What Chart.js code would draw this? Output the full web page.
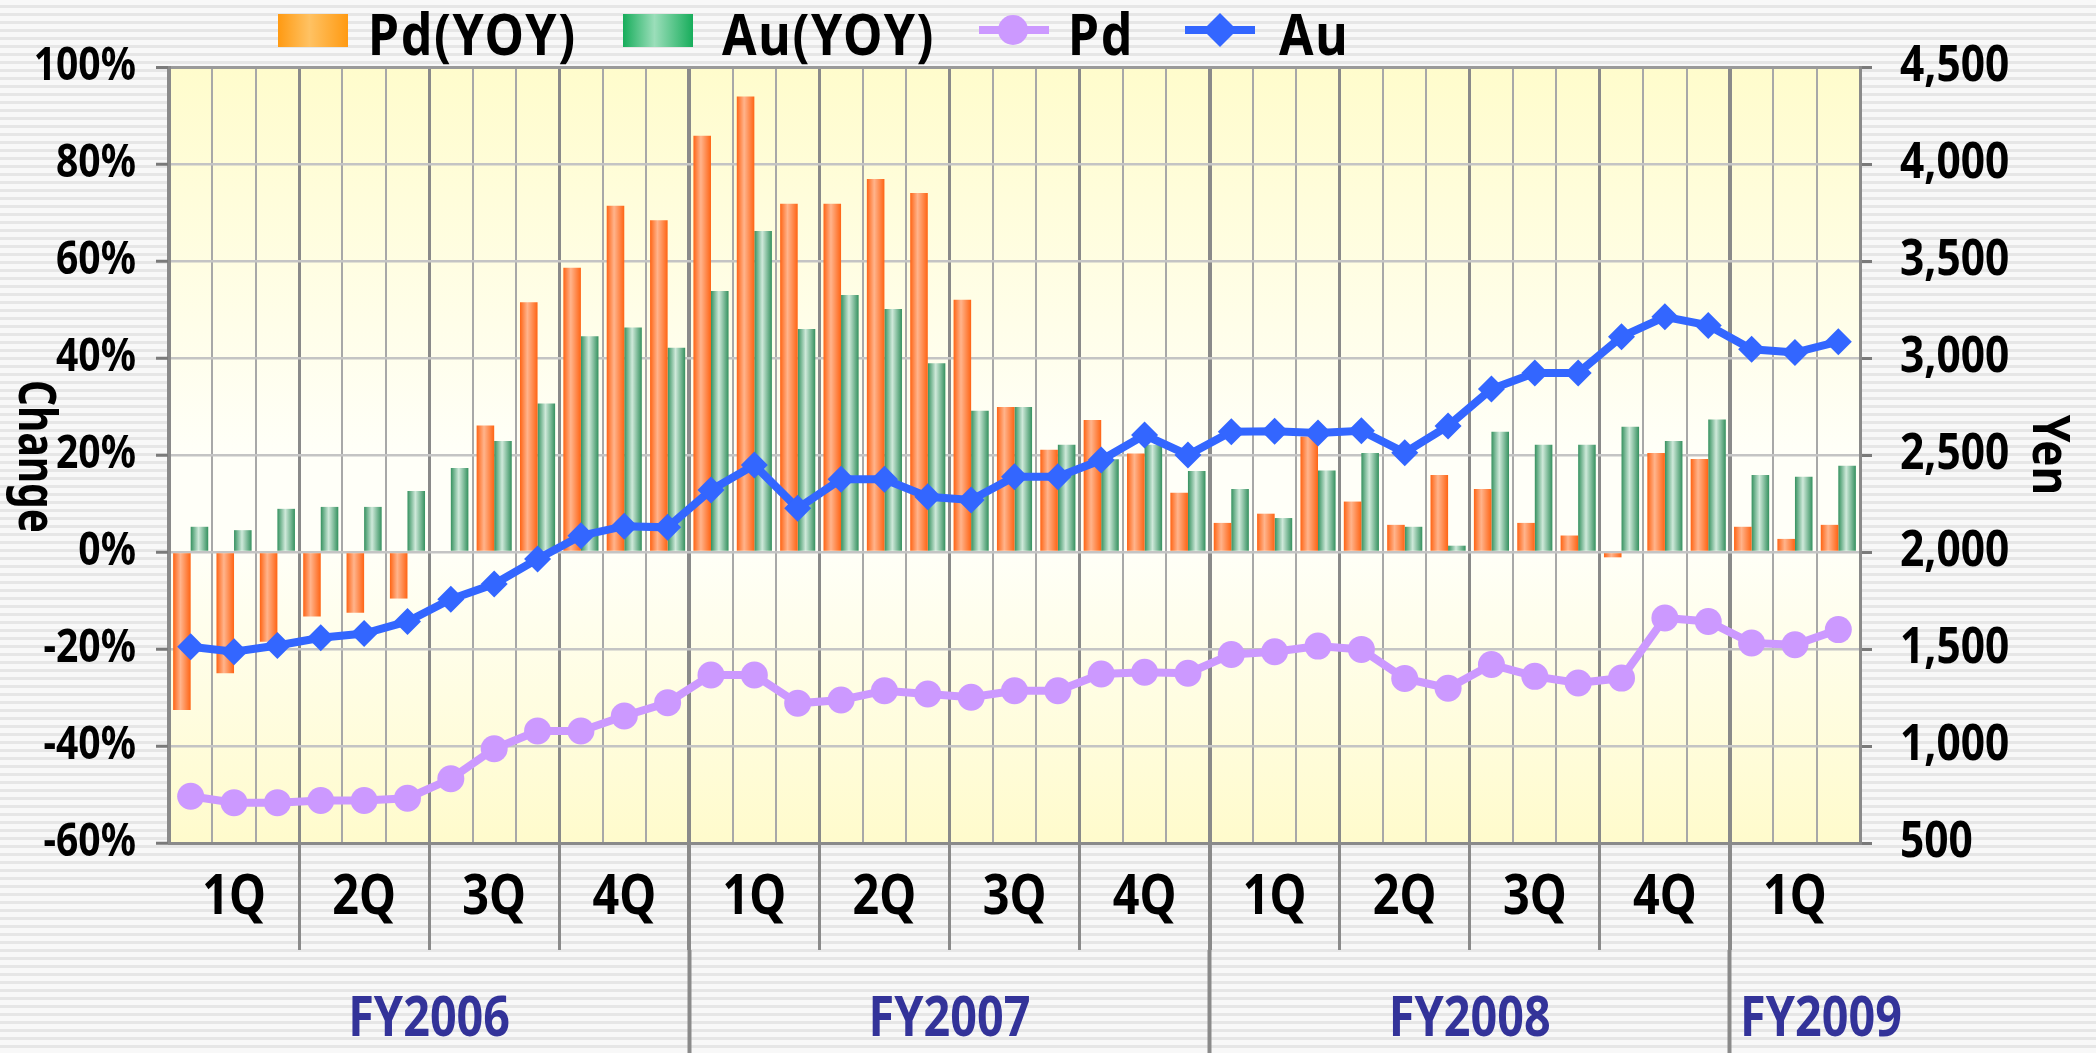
<!DOCTYPE html>
<html>
<head>
<meta charset="utf-8">
<title>Pd / Au price and YOY change</title>
<script src="https://cdn.jsdelivr.net/npm/chart.js@4.4.1/dist/chart.umd.min.js"></script>
<style>
  html, body { margin: 0; padding: 0; }
  body {
    width: 2096px; height: 1053px; overflow: hidden;
    background: repeating-linear-gradient(to bottom, #f8f8f8 0px, #f8f8f8 5px, #e6e6e6 5px, #e6e6e6 8px);
    font-family: "Noto Sans", "Liberation Sans", Arial, sans-serif;
  }
  #wrap { position: relative; width: 2096px; height: 1053px; }
  #chart { position: absolute; left: 0; top: 0; }
  .sw { position: absolute; top: 14px; width: 70px; height: 33px; }
  .lt { position: absolute; top: 4px; font-size: 58px; line-height: 58px; font-weight: bold; color: #000; white-space: nowrap; letter-spacing: 2px; transform: scaleX(0.86); transform-origin: left center; }
  .ln { position: absolute; top: 26px; width: 70px; height: 8px; }
  .dot { position: absolute; top: 15px; width: 30px; height: 30px; border-radius: 50%; background: #cc99ff; }
  .dia { position: absolute; top: 18px; width: 24px; height: 24px; background: #3366ff; transform: rotate(45deg); }
  #ytitle { position: absolute; left: 13px; top: 380px; writing-mode: vertical-rl; font-size: 52px; line-height: 52px; font-weight: bold; color: #000; transform: scaleY(0.78); transform-origin: center top; }
</style>
</head>
<body>
<div id="wrap">
  <canvas id="chart" width="2096" height="1053"></canvas>
  <div class="sw" style="left:278px; background: linear-gradient(to right, #ff9a12, #ffc263 45%, #ff9a12);"></div>
  <div class="lt" style="left:368px">Pd(YOY)</div>
  <div class="sw" style="left:623px; background: linear-gradient(to right, #17ad5b, #9bdeba 45%, #17ad5b);"></div>
  <div class="lt" style="left:722px">Au(YOY)</div>
  <div class="ln" style="left:979px; background:#cc99ff"></div>
  <div class="dot" style="left:998px"></div>
  <div class="lt" style="left:1068px">Pd</div>
  <div class="ln" style="left:1185px; background:#3366ff"></div>
  <div class="dia" style="left:1208px"></div>
  <div class="lt" style="left:1279px">Au</div>
  <div id="ytitle">Change</div>
</div>
<script>
// --- Data ---
const months = [
  '2006-04', '2006-05', '2006-06', '2006-07', '2006-08', '2006-09',
  '2006-10', '2006-11', '2006-12', '2007-01', '2007-02', '2007-03',
  '2007-04', '2007-05', '2007-06', '2007-07', '2007-08', '2007-09',
  '2007-10', '2007-11', '2007-12', '2008-01', '2008-02', '2008-03',
  '2008-04', '2008-05', '2008-06', '2008-07', '2008-08', '2008-09',
  '2008-10', '2008-11', '2008-12', '2009-01', '2009-02', '2009-03',
  '2009-04', '2009-05', '2009-06'
];
const fiscalYears = ['FY2006', 'FY2007', 'FY2008', 'FY2009'];
const monthsPerYear = [12, 12, 12, 3];
const quarterNames = ['1Q', '2Q', '3Q', '4Q'];

// YOY change, %
const pdYoy = [
  -32.6, -25.0, -18.5, -13.3, -12.5, -9.6, 0, 26.1, 51.5, 58.6, 71.4, 68.4,
  85.8, 93.9, 71.8, 71.8, 76.9, 74.0, 52.0, 29.9, 21.1, 27.2, 20.3, 12.2,
  6.0, 7.9, 23.8, 10.4, 5.6, 15.9, 13.0, 6.0, 3.4, -1.1, 20.4, 19.2,
  5.2, 2.7, 5.6
];
const auYoy = [
  5.2, 4.5, 8.9, 9.3, 9.3, 12.6, 17.3, 22.9, 30.6, 44.5, 46.3, 42.1,
  53.8, 66.2, 46.0, 53.0, 50.1, 38.9, 29.1, 29.9, 22.1, 19.1, 22.1, 16.7,
  13.0, 7.0, 16.8, 20.4, 5.2, 1.3, 24.8, 22.1, 22.1, 25.8, 22.9, 27.3,
  15.9, 15.5, 17.8
];

// Price, yen
const pdPrice = [
  741, 708, 708, 719, 719, 731, 831, 986, 1077, 1077, 1155, 1223,
  1366, 1366, 1220, 1237, 1285, 1268, 1251, 1285, 1285, 1371, 1380, 1375,
  1472, 1486, 1515, 1498, 1348, 1298, 1420, 1359, 1325, 1350, 1660, 1642,
  1531, 1522, 1600
];
const auPrice = [
  1512, 1486, 1518, 1558, 1580, 1642, 1757, 1835, 1964, 2084, 2133, 2127,
  2320, 2448, 2225, 2375, 2375, 2285, 2268, 2388, 2388, 2474, 2603, 2500,
  2620, 2622, 2613, 2625, 2512, 2650, 2840, 2923, 2923, 3110, 3212, 3168,
  3045, 3028, 3084
];

// --- Fiscal year ticks (label spots + year boundaries) ---
const fyTicks = [];
let fyStart = 0;
fiscalYears.forEach((fy, i) => {
  const n = monthsPerYear[i];
  if (i > 0) fyTicks.push({ value: fyStart - 0.5, label: '' });
  fyTicks.push({ value: fyStart - 0.5 + Math.max(n, 4.2) / 2, label: fy });
  fyStart += n;
});
fyTicks.sort((a, b) => a.value - b.value);

// --- Styles ---
const FONT = '"Noto Sans", "Liberation Sans", Arial, sans-serif';
const TEXT_SQUEEZE = 0.85; // the original uses a tall, narrow face
const CAT_PCT = 0.81;
const orangeStops = [[0, '#ff6414'], [0.42, '#ffb48c'], [1, '#ff6414']];
const greenStops = [[0, '#35915f'], [0.45, '#cfe9da'], [1, '#35915f']];
const noColor = 'rgba(0,0,0,0)';

Chart.defaults.font.family = FONT;
Chart.defaults.color = '#000';

// horizontal cylinder shading for each bar
function barFill(side, stops) {
  return (ctx) => {
    const chart = ctx.chart;
    const xScale = chart.scales.x;
    if (!xScale || ctx.dataIndex === undefined) return stops[1][1];
    const center = xScale.getPixelForValue(ctx.dataIndex);
    const w = xScale.width / months.length * CAT_PCT / 2;
    if (!isFinite(center) || !isFinite(w) || w <= 0) return stops[1][1];
    const x0 = side === 0 ? center - w : center;
    const g = chart.ctx.createLinearGradient(x0, 0, x0 + w, 0);
    stops.forEach(([p, c]) => g.addColorStop(p, c));
    return g;
  };
}

function gridIndex(ctx) {
  return ctx.index === undefined ? months.length : ctx.index;
}

// --- Plot area background ---
const plotBackground = {
  id: 'plotBackground',
  beforeDraw(chart) {
    const { ctx, chartArea: a } = chart;
    const g = ctx.createLinearGradient(0, a.top, 0, a.bottom);
    g.addColorStop(0, '#fffccc');
    g.addColorStop(0.5, '#fffff8');
    g.addColorStop(0.62, '#fffff8');
    g.addColorStop(1, '#fffbcc');
    ctx.save();
    ctx.fillStyle = g;
    ctx.fillRect(a.left, a.top, a.right - a.left, a.bottom - a.top);
    ctx.restore();
  }
};

// --- Narrow text: squeeze every label along its own line ---
const narrowText = {
  id: 'narrowText',
  beforeInit(chart) {
    const ctx = chart.ctx;
    const fillText = ctx.fillText.bind(ctx);
    ctx.fillText = (text, x, y) => {
      ctx.save();
      ctx.translate(x, y);
      ctx.scale(TEXT_SQUEEZE, 1);
      fillText(text, 0, 0);
      ctx.restore();
    };
  }
};

// --- Chart ---
new Chart(document.getElementById('chart'), {
  type: 'bar',
  data: {
    labels: months,
    datasets: [
      {
        type: 'line',
        label: 'Au',
        data: auPrice,
        yAxisID: 'y1',
        xAxisID: 'x',
        borderColor: '#3366ff',
        backgroundColor: '#3366ff',
        borderWidth: 8,
        tension: 0,
        pointStyle: 'rectRot',
        pointRadius: 13.5,
        pointBorderWidth: 0,
        pointBackgroundColor: '#3366ff',
        order: 0
      },
      {
        type: 'line',
        label: 'Pd',
        data: pdPrice,
        yAxisID: 'y1',
        xAxisID: 'x',
        borderColor: '#cc99ff',
        backgroundColor: '#cc99ff',
        borderWidth: 8,
        tension: 0,
        pointStyle: 'circle',
        pointRadius: 13.5,
        pointBorderWidth: 0,
        pointBackgroundColor: '#cc99ff',
        order: 1
      },
      {
        label: 'Pd(YOY)',
        data: pdYoy,
        yAxisID: 'y',
        xAxisID: 'x',
        backgroundColor: barFill(0, orangeStops),
        borderWidth: 0,
        categoryPercentage: CAT_PCT,
        barPercentage: 1,
        order: 2
      },
      {
        label: 'Au(YOY)',
        data: auYoy,
        yAxisID: 'y',
        xAxisID: 'x',
        backgroundColor: barFill(1, greenStops),
        borderWidth: 0,
        categoryPercentage: CAT_PCT,
        barPercentage: 1,
        order: 2
      }
    ]
  },
  options: {
    responsive: false,
    animation: false,
    devicePixelRatio: 1,
    layout: { padding: { top: 67, left: 0, right: 0, bottom: 0 } },
    plugins: {
      legend: { display: false },
      tooltip: { enabled: false }
    },
    scales: {
      x: {
        type: 'category',
        position: 'bottom',
        weight: 0,
        offset: true,
        grid: {
          offset: true,
          color: ctx => gridIndex(ctx) % 3 === 0 ? '#8a8a8a' : '#a8a8a8',
          lineWidth: ctx => {
            const i = gridIndex(ctx);
            return i % 12 === 0 ? 4 : i % 3 === 0 ? 3 : 2;
          },
          tickLength: 107,
          tickWidth: ctx => gridIndex(ctx) % 12 === 0 ? 4 : 3,
          tickColor: ctx => {
            const i = gridIndex(ctx);
            return (i > 0 && i < months.length && i % 3 === 0) ? '#8a8a8a' : noColor;
          }
        },
        border: { display: true, color: '#8a8a8a', width: 3 },
        ticks: {
          autoSkip: false,
          maxRotation: 0,
          minRotation: 0,
          padding: -85,
          font: { size: 55, weight: 'bold' },
          color: '#000',
          callback: (value, index) => index % 3 === 1 ? quarterNames[Math.floor(index / 3) % 4] : ''
        },
        afterFit: s => { s.height = 107; }
      },
      x2: {
        type: 'linear',
        position: 'bottom',
        weight: 1,
        min: -0.5,
        max: months.length - 0.5,
        offset: false,
        grid: {
          offset: false,
          drawOnChartArea: false,
          tickLength: 103,
          tickWidth: 4,
          tickColor: ctx => (fyTicks[ctx.index] && fyTicks[ctx.index].label === '') ? '#8a8a8a' : noColor
        },
        border: { display: false },
        afterBuildTicks: s => { s.ticks = fyTicks.map(t => ({ value: t.value })); },
        ticks: {
          autoSkip: false,
          maxRotation: 0,
          minRotation: 0,
          padding: -66,
          font: { size: 55, weight: 'bold' },
          color: '#333399',
          callback: (value, index) => fyTicks[index] ? fyTicks[index].label : ''
        },
        afterFit: s => { s.height = 103; }
      },
      y: {
        type: 'linear',
        position: 'left',
        min: -60,
        max: 100,
        ticks: {
          stepSize: 20,
          padding: 20,
          font: { size: 46, weight: 'bold' },
          color: '#000',
          callback: v => v + '%'
        },
        grid: {
          color: ctx => (ctx.tick && ctx.tick.value === 100) ? '#9a9a9a' : '#c4c4c4',
          lineWidth: ctx => (ctx.tick && ctx.tick.value === 100) ? 3 : 2.5,
          tickLength: 13,
          tickWidth: 3,
          tickColor: '#7a7a7a'
        },
        border: { display: true, color: '#8a8a8a', width: 3 },
        afterFit: s => { s.width = 169; }
      },
      y1: {
        type: 'linear',
        position: 'right',
        min: 500,
        max: 4500,
        ticks: {
          stepSize: 500,
          padding: 28,
          font: { size: 50, weight: 'bold' },
          color: '#000',
          callback: v => v.toLocaleString('en-US')
        },
        grid: {
          drawOnChartArea: false,
          tickLength: 12,
          tickWidth: 3,
          tickColor: '#7a7a7a'
        },
        border: { display: true, color: '#8a8a8a', width: 3 },
        title: {
          display: true,
          text: 'Yen',
          font: { size: 52, weight: 'bold' },
          color: '#000',
          padding: { top: 17, bottom: 0 }
        },
        afterFit: s => { s.width = 236; }
      }
    }
  },
  plugins: [plotBackground, narrowText]
});
</script>
</body>
</html>
